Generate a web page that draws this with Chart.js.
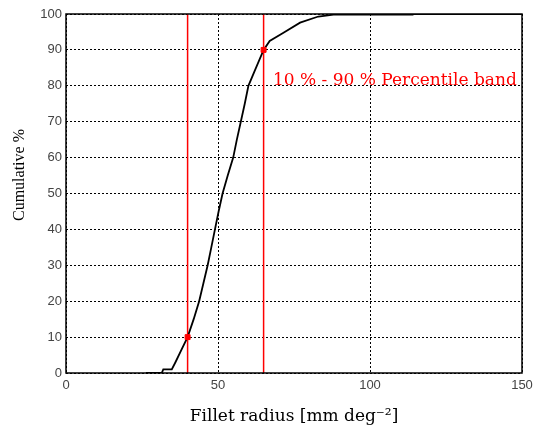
<!DOCTYPE html>
<html><head><meta charset="utf-8">
<script src="https://cdn.jsdelivr.net/npm/chart.js@4/dist/chart.umd.min.js"></script>
<style>html,body{margin:0;padding:0;background:#fff}#wrap{width:540px;height:427px}</style>
</head><body><div id="wrap"><canvas id="c" width="540" height="427"></canvas></div>
<script>
const cdfX = [26.3, 31.5, 32, 34.8, 36, 38, 40, 42, 43.8, 45.2, 46.6, 47.8, 49, 50.2, 51.5, 53.2, 55, 56.2, 57.5, 58.8, 60, 62, 65, 67, 71.4, 77, 83, 88, 114, 114, 150];
const cdfY = [0, 0, 1, 1, 3, 6.5, 10, 15, 20, 25, 30, 35, 40, 45, 50, 55, 60, 65, 70, 75, 80, 84, 90, 92.5, 94.7, 97.6, 99.3, 99.8, 99.8, 100, 100];
const bandX = [40, 65];
const bandY = [10, 90];
const xTickValues = [0, 50, 100, 150];
const yTickValues = [0, 10, 20, 30, 40, 50, 60, 70, 80, 90, 100];
const bandLabel = "10 % - 90 % Percentile band";
const xTitle = "Fillet radius [mm deg\u207B\u00B2]";
const yTitle = "Cumulative %";

const serif = "'DejaVu Serif', 'Liberation Serif', serif";

const framePlugin = {
  id: 'frame',
  afterDraw(chart) {
    const {ctx, chartArea: a, scales} = chart;
    ctx.save();
    ctx.strokeStyle = '#000';
    ctx.lineWidth = 1.5;
    ctx.strokeRect(a.left, a.top, a.right - a.left, a.bottom - a.top);
    ctx.fillStyle = '#ff0000';
    ctx.font = '17px ' + serif;
    ctx.textBaseline = 'middle';
    ctx.fillText(bandLabel, scales.x.getPixelForValue(68.1), scales.y.getPixelForValue(81.5));
    // y-axis title
    ctx.fillStyle = '#000';
    ctx.font = "16px 'Liberation Serif', serif";
    ctx.translate(20, 175);
    ctx.rotate(-Math.PI / 2);
    ctx.textAlign = 'center';
    ctx.fillText(yTitle, 0, 0);
    ctx.restore();
  }
};

const bandLines = bandX.map(v => ({
  data: [{x: v, y: 0}, {x: v, y: 100}],
  borderColor: '#ff0000', borderWidth: 1.5, pointRadius: 0, showLine: true, order: 2
}));

new Chart(document.getElementById('c'), {
  type: 'scatter',
  data: {
    datasets: [
      {
        data: cdfX.map((x, i) => ({x, y: cdfY[i]})),
        borderColor: '#000', borderWidth: 1.8, pointRadius: 0, showLine: true, order: 1
      },
      ...bandLines,
      {
        data: bandX.map((x, i) => ({x, y: bandY[i]})),
        backgroundColor: '#ff0000', borderColor: '#ff0000', pointRadius: 3.5, pointStyle: 'rect', showLine: false, order: 0
      }
    ]
  },
  options: {
    responsive: false, animation: false,
    layout: {padding: {top: 14, right: 18, bottom: 0, left: 0}},
    plugins: {legend: {display: false}, tooltip: {enabled: false}},
    scales: {
      x: {
        type: 'linear', min: 0, max: 150,
        afterBuildTicks: s => { s.ticks = xTickValues.map(v => ({value: v})); },
        afterFit: s => { s.height = 54; },
        grid: {color: '#000', lineWidth: 1, drawTicks: false},
        border: {display: false, dash: [2, 2]},
        ticks: {color: '#444', padding: 5, font: {family: "'Liberation Sans', Arial, sans-serif", size: 13}},
        title: {display: true, text: xTitle, color: '#000', padding: {top: 4, bottom: 0}, font: {family: serif, size: 17}}
      },
      y: {
        type: 'linear', min: 0, max: 100,
        afterBuildTicks: s => { s.ticks = yTickValues.map(v => ({value: v})); },
        afterFit: s => { s.width = 66; },
        grid: {color: '#000', lineWidth: 1, drawTicks: false},
        border: {display: false, dash: [2, 2]},
        ticks: {color: '#444', padding: 4, font: {family: "'Liberation Sans', Arial, sans-serif", size: 13}},
        title: {display: false}
      }
    }
  },
  plugins: [framePlugin]
});
</script></body></html>
